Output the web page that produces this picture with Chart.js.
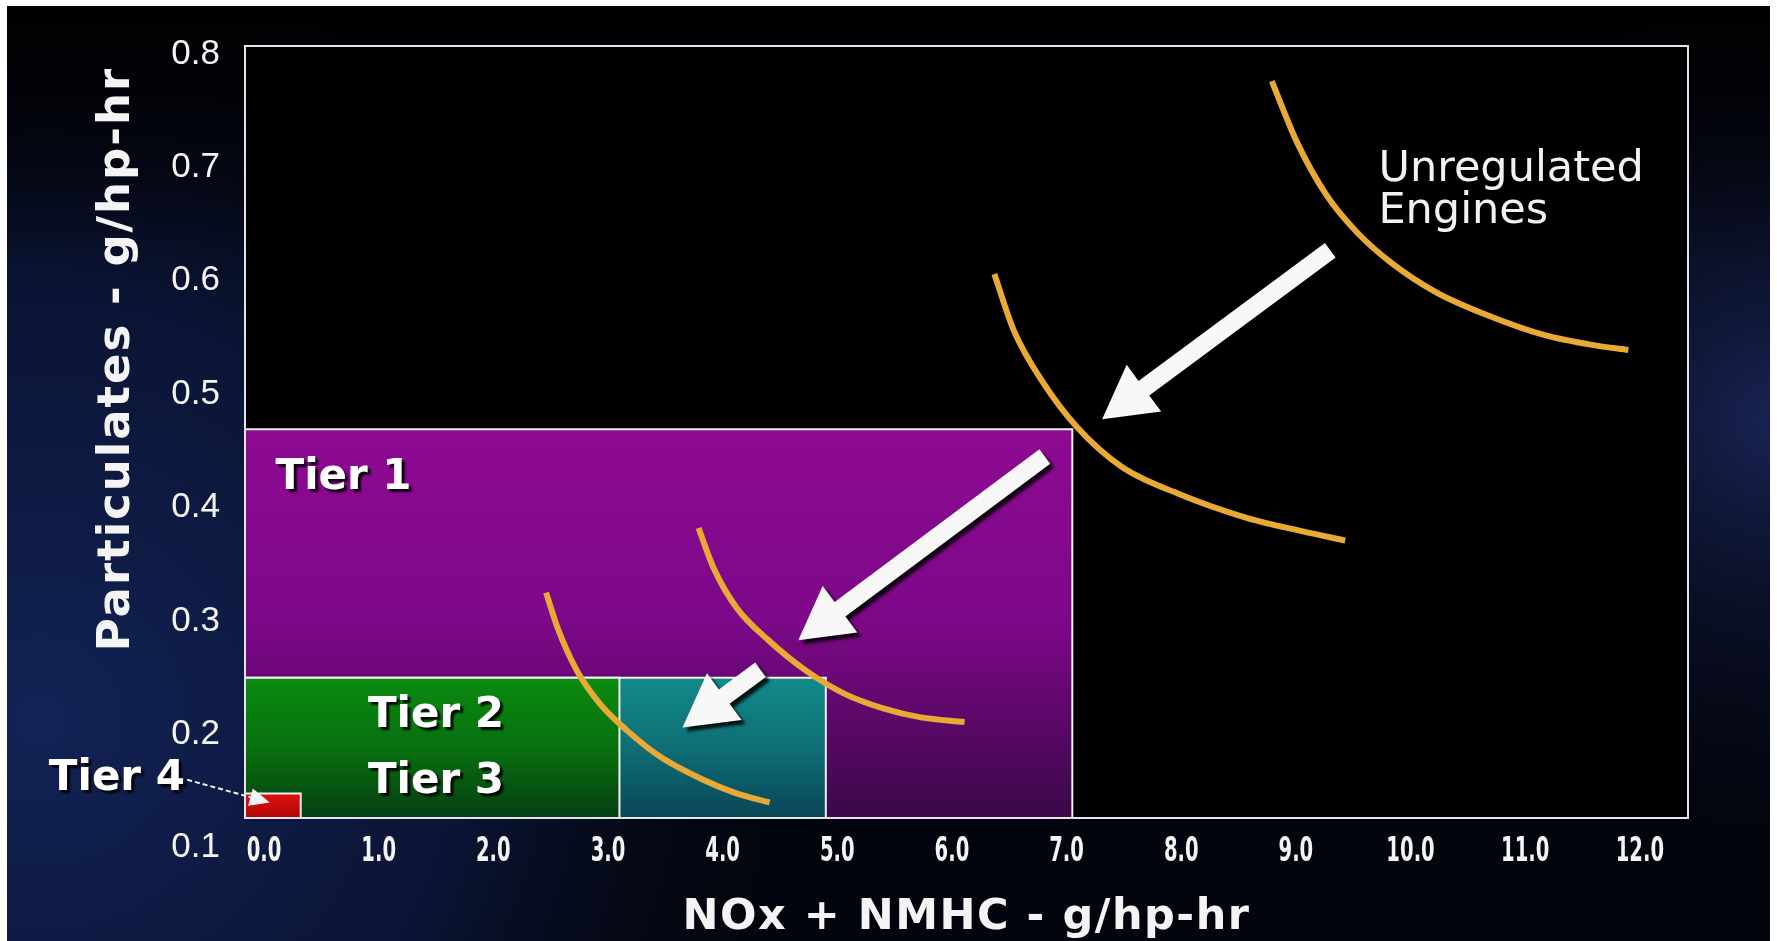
<!DOCTYPE html>
<html><head><meta charset="utf-8">
<script src="https://cdn.jsdelivr.net/npm/chart.js@4.4.1/dist/chart.umd.min.js"></script>
<style>html,body{margin:0;padding:0;background:#fff;overflow:hidden}</style>
</head><body>
<canvas id="c" width="1777" height="941"></canvas>
<script>
// ---- axis ticks ----
const xTicks = [0,1,2,3,4,5,6,7,8,9,10,11,12];
const xTickLabels = ['0.0','1.0','2.0','3.0','4.0','5.0','6.0','7.0','8.0','9.0','10.0','11.0','12.0'];
const yTicks = [0.1,0.2,0.3,0.4,0.5,0.6,0.7,0.8];
const yTickLabels = ['0.1','0.2','0.3','0.4','0.5','0.6','0.7','0.8'];
const xRange = [-0.166, 12.42];
const yRange = [0.1263, 0.807];

// ---- tier limits (NOx+NMHC, PM) ----
const tierNames = ['Tier 1','Tier 2','Tier 3','Tier 4'];
const tierNOx = [7.05, 4.9, 3.1, 0.32];
const tierPM  = [0.469, 0.25, 0.25, 0.148];

// ---- trade-off curves ----
const curveUnregX = [8.79, 9.01, 9.27, 9.53, 9.83, 10.22, 10.66, 11.17, 11.61, 11.90];
const curveUnregY = [0.776, 0.722, 0.675, 0.643, 0.616, 0.590, 0.570, 0.552, 0.543, 0.539];
const curveT1X = [6.37, 6.54, 6.79, 7.09, 7.48, 7.98, 8.57, 9.06, 9.43];
const curveT1Y = [0.606, 0.556, 0.511, 0.471, 0.436, 0.412, 0.391, 0.379, 0.371];
const curveT2X = [3.79, 3.92, 4.12, 4.40, 4.73, 5.06, 5.40, 5.73, 6.11];
const curveT2Y = [0.382, 0.347, 0.312, 0.283, 0.256, 0.236, 0.223, 0.215, 0.211];
const curveT3X = [2.46, 2.56, 2.73, 2.93, 3.16, 3.46, 3.83, 4.12, 4.41];
const curveT3Y = [0.325, 0.294, 0.256, 0.227, 0.204, 0.180, 0.160, 0.148, 0.140];

// ---- arrows (tail -> tip, data coords) ----
const arrowTailX = [9.30, 6.81, 4.33];
const arrowTailY = [0.627, 0.445, 0.257];
const arrowTipX  = [7.31, 4.66, 3.65];
const arrowTipY  = [0.478, 0.283, 0.206];
const tier4PointerX = [-0.67, 0.05];
const tier4PointerY = [0.160, 0.140];

// ---- annotation texts (data coords) ----
const noteTexts = ['Tier 1','Tier 2','Tier 3','Tier 4','Unregulated','Engines'];
const noteX = [0.10, 1.50, 1.50, -0.69, 9.72, 9.72];
const noteY = [0.426, 0.216, 0.158, 0.161, 0.698, 0.661];

const xTitle = 'NOx + NMHC - g/hp-hr';
const yTitle = 'Particulates - g/hp-hr';

function pts(xs, ys){ return xs.map((x,i)=>({x:x, y:ys[i]})); }
function tierBox(i){ return [{x:xRange[0], y:tierPM[i]},{x:tierNOx[i], y:tierPM[i]},{x:tierNOx[i], y:yRange[0]}]; }
function grad(stops, i){
  return function(ctx){
    const ch = ctx.chart; const ca = ch.chartArea; if(!ca) return stops[0];
    const top = ch.scales.y.getPixelForValue(tierPM[i]);
    const g = ch.ctx.createLinearGradient(0, top, 0, ca.bottom);
    stops.forEach((c,k)=>g.addColorStop(k/(stops.length-1), c));
    return g;
  };
}
const curveStyle = {borderColor:'#e9a935', borderWidth:6, pointRadius:0, fill:false, tension:0.4, cubicInterpolationMode:'monotone'};

const datasets = [
  Object.assign({label:'Unregulated', data:pts(curveUnregX,curveUnregY), order:1}, curveStyle),
  Object.assign({label:'c1', data:pts(curveT1X,curveT1Y), order:1}, curveStyle),
  Object.assign({label:'c2', data:pts(curveT2X,curveT2Y), order:1}, curveStyle),
  Object.assign({label:'c3', data:pts(curveT3X,curveT3Y), order:1}, curveStyle),
  {label:tierNames[3], data:tierBox(3), order:2, borderColor:'#f0f0f0', borderWidth:2, pointRadius:0, tension:0, fill:'start', backgroundColor:grad(['#e01010','#b00808'],3)},
  {label:tierNames[2], data:tierBox(2), order:3, borderColor:'#f0f0f0', borderWidth:2, pointRadius:0, tension:0, fill:'start', backgroundColor:grad(['#0b8a10','#087010','#053f12'],2)},
  {label:tierNames[1], data:tierBox(1), order:4, borderColor:'#f0f0f0', borderWidth:2, pointRadius:0, tension:0, fill:'start', backgroundColor:grad(['#128a8a','#0e6e76','#0a4656'],1)},
  {label:tierNames[0], data:tierBox(0), order:5, borderColor:'#f0f0f0', borderWidth:2, pointRadius:0, tension:0, fill:'start', backgroundColor:grad(['#8e0a92','#7c0888','#3a0848'],0)}
];

function drawArrow(ctx,x0,y0,x1,y1,shaft,headW,headL){
  const dx=x1-x0, dy=y1-y0, L=Math.hypot(dx,dy), ux=dx/L, uy=dy/L, px=-uy, py=ux;
  const bx=x1-ux*headL, by=y1-uy*headL;
  ctx.beginPath();
  ctx.moveTo(x0+px*shaft/2, y0+py*shaft/2);
  ctx.lineTo(bx+px*shaft/2, by+py*shaft/2);
  ctx.lineTo(bx+px*headW/2, by+py*headW/2);
  ctx.lineTo(x1,y1);
  ctx.lineTo(bx-px*headW/2, by-py*headW/2);
  ctx.lineTo(bx-px*shaft/2, by-py*shaft/2);
  ctx.lineTo(x0-px*shaft/2, y0-py*shaft/2);
  ctx.closePath(); ctx.fill();
}

const bgPlugin = {
  id:'bg',
  beforeDraw(chart){
    const c = chart.ctx, W = chart.width, H = chart.height, ca = chart.chartArea;
    c.save();
    c.fillStyle = '#ffffff'; c.fillRect(0,0,W,H);
    c.beginPath(); c.rect(7,6,W-14,H-6); c.clip();
    c.fillStyle = '#03050e'; c.fillRect(0,0,W,H);
    let g = c.createRadialGradient(40,720,20,40,720,760);
    g.addColorStop(0,'rgba(18,34,84,1)'); g.addColorStop(0.55,'rgba(12,24,62,0.8)'); g.addColorStop(1,'rgba(5,8,20,0)');
    c.fillStyle = g; c.fillRect(0,0,W,H);
    g = c.createRadialGradient(W,420,20,W,420,420);
    g.addColorStop(0,'rgba(26,38,90,0.85)'); g.addColorStop(1,'rgba(8,12,30,0)');
    c.fillStyle = g; c.fillRect(0,0,W,H);
    g = c.createLinearGradient(0,0,0,260);
    g.addColorStop(0,'rgba(0,0,0,0.9)'); g.addColorStop(1,'rgba(0,0,0,0)');
    c.fillStyle = g; c.fillRect(0,0,W,260);
    c.restore();
    c.fillStyle = '#000'; c.fillRect(ca.left, ca.top, ca.right-ca.left, ca.bottom-ca.top);
  },
  afterDatasetsDraw(chart){
    const c = chart.ctx, ca = chart.chartArea, xs = chart.scales.x, ys = chart.scales.y;
    c.save();
    c.strokeStyle = '#e4e4ea'; c.lineWidth = 2;
    c.strokeRect(ca.left, ca.top, ca.right-ca.left, ca.bottom-ca.top);
    c.fillStyle = '#f8f8f8';
    c.shadowColor = 'rgba(0,0,0,0.85)'; c.shadowOffsetX = 4; c.shadowOffsetY = 4; c.shadowBlur = 3;
    for (let i=0;i<arrowTailX.length;i++){
      drawArrow(c, xs.getPixelForValue(arrowTailX[i]), ys.getPixelForValue(arrowTailY[i]),
                   xs.getPixelForValue(arrowTipX[i]), ys.getPixelForValue(arrowTipY[i]), 18, 58, 52);
    }
    c.shadowColor = 'transparent';
    const ax0 = xs.getPixelForValue(tier4PointerX[0]), ay0 = ys.getPixelForValue(tier4PointerY[0]);
    const ax1 = xs.getPixelForValue(tier4PointerX[1]), ay1 = ys.getPixelForValue(tier4PointerY[1]);
    const L = Math.hypot(ax1-ax0, ay1-ay0), ux=(ax1-ax0)/L, uy=(ay1-ay0)/L;
    c.strokeStyle = '#f4f4f4'; c.lineWidth = 2; c.setLineDash([5,3]);
    c.beginPath(); c.moveTo(ax0,ay0); c.lineTo(ax1-ux*20, ay1-uy*20); c.stroke();
    c.setLineDash([]);
    c.fillStyle = '#f4f4f4';
    drawArrow(c, ax1-ux*22, ay1-uy*22, ax1, ay1, 2, 18, 20);
    c.shadowColor = 'rgba(0,0,0,0.9)'; c.shadowOffsetX = 3; c.shadowOffsetY = 3; c.shadowBlur = 2;
    c.fillStyle = '#ffffff'; c.textBaseline = 'middle';
    const aligns = ['left','center','center','right','left','left'];
    for (let i=0;i<noteTexts.length;i++){
      c.font = (i<4 ? 'bold 42px "DejaVu Sans"' : '43px "DejaVu Sans"');
      if (i>=4) { c.shadowColor = 'transparent'; c.fillStyle = '#f2f2f2'; }
      c.textAlign = aligns[i];
      c.fillText(noteTexts[i], xs.getPixelForValue(noteX[i]), ys.getPixelForValue(noteY[i]));
    }
    c.restore();
  },
  afterDraw(chart){
    const c = chart.ctx, ca = chart.chartArea, xs = chart.scales.x;
    c.save();
    // condensed x tick labels at the library's tick positions
    c.fillStyle = '#f4f4f4'; c.textAlign = 'center'; c.textBaseline = 'middle';
    c.font = 'bold 33px "DejaVu Sans Condensed", "DejaVu Sans"';
    xs.ticks.forEach((t,i)=>{
      c.save();
      c.translate(xs.getPixelForValue(t.value), ca.bottom + 34);
      c.scale(0.66, 1);
      c.fillText(xTickLabels[i], 0, 0);
      c.restore();
    });
    c.font = 'bold 43px "DejaVu Sans"';
    try { c.letterSpacing = '1.5px'; } catch(e) {}
    c.fillText(xTitle, (ca.left+ca.right)/2, ca.bottom + 100);
    c.translate(117, ca.top + 313); c.rotate(-Math.PI/2);
    c.font = 'bold 45px "DejaVu Sans"';
    try { c.letterSpacing = '2px'; } catch(e) {}
    c.fillText(yTitle, 0, 0);
    c.restore();
  }
};

new Chart(document.getElementById('c'), {
  type:'line',
  data:{datasets:datasets},
  plugins:[bgPlugin],
  options:{
    responsive:false, animation:false, devicePixelRatio:1,
    layout:{padding:{left:0, right:89, top:43, bottom:0}},
    plugins:{legend:{display:false}, tooltip:{enabled:false}, filler:{drawTime:'beforeDatasetDraw'}},
    scales:{
      x:{type:'linear', min:xRange[0], max:xRange[1], border:{display:false}, grid:{display:false, drawTicks:false},
         afterBuildTicks:(s)=>{ s.ticks = xTicks.map(v=>({value:v})); },
         afterFit:(s)=>{ s.height = 123; },
         ticks:{autoSkip:false, maxRotation:0, padding:14, color:'rgba(0,0,0,0)',
                font:{family:'"DejaVu Sans Condensed", sans-serif', size:32, weight:'bold'},
                callback:(v,i)=>xTickLabels[i]}},
      y:{type:'linear', min:yRange[0], max:yRange[1], border:{display:false}, grid:{display:false, drawTicks:false},
         afterBuildTicks:(s)=>{ s.ticks = yTicks.map(v=>({value:v})); },
         afterFit:(s)=>{ s.width = 245; },
         ticks:{autoSkip:false, padding:25, color:'#f4f4f4',
                font:{family:'"Liberation Sans", sans-serif', size:35},
                callback:(v,i)=>yTickLabels[i]}}
    }
  }
});
</script>
</body></html>
